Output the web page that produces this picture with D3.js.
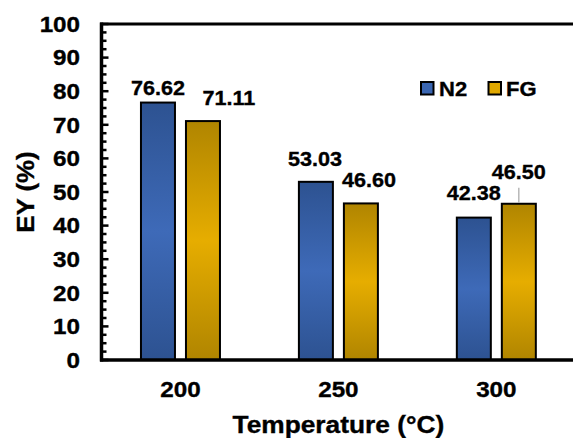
<!DOCTYPE html>
<html><head><meta charset="utf-8">
<script src="https://cdn.jsdelivr.net/npm/d3@7"></script>
<style>
html,body{margin:0;padding:0;background:#fff;}
svg{display:block;}
text{font-family:"Liberation Sans",Arial,Helvetica,sans-serif;font-weight:bold;fill:#000;stroke:#000;stroke-width:0.35px;}
</style></head>
<body>
<svg id="chart" width="573" height="438"></svg>
<script>
const categories = ["200", "250", "300"];
const seriesNames = ["N2", "FG"];
const n2Values = [76.62, 53.03, 42.38];
const fgValues = [71.11, 46.60, 46.50];
const yTickValues = [0, 10, 20, 30, 40, 50, 60, 70, 80, 90, 100];
const xTitle = "Temperature (°C)";
const yTitle = "EY (%)";
// label nudges (dx, dy in px) relative to default position above each bar
const n2LabelNudge = [[0, 8.5], [-1, 0], [0, -1.5]];
const fgLabelNudge = [[26, 0], [8, 0], [0, -9]];

const svg = d3.select("#chart");
const W = 573, H = 438;
const plot = {left: 101.5, right: 575.3, top: 24, bottom: 360};
const SX = 1.1;

const y = d3.scaleLinear().domain([0, 100]).range([plot.bottom, plot.top]);
const x0 = d3.scaleBand().domain(categories).range([plot.left, plot.right]).padding(0);
const x1 = d3.scaleBand().domain(seriesNames).range([0, 79]).paddingInner(11/45).paddingOuter(0);

const defs = svg.append("defs");
function grad(id, dark, light) {
  const g = defs.append("linearGradient").attr("id", id)
    .attr("x1", 0).attr("y1", 0).attr("x2", 0).attr("y2", 1);
  g.append("stop").attr("offset", "0%").attr("stop-color", dark);
  g.append("stop").attr("offset", "50%").attr("stop-color", light);
  g.append("stop").attr("offset", "100%").attr("stop-color", dark);
}
grad("gN2", "#2d5291", "#3e6ab8");
grad("gFG", "#b08500", "#e6ad00");
const fills = {N2: "url(#gN2)", FG: "url(#gFG)"};

const rows = [];
categories.forEach((c, i) => {
  rows.push({cat: c, s: "N2", v: n2Values[i], nudge: n2LabelNudge[i]});
  rows.push({cat: c, s: "FG", v: fgValues[i], nudge: fgLabelNudge[i]});
});
const barX = d => x0(d.cat) + x0.bandwidth() / 2 - 39.5 + x1(d.s);

// bars
svg.append("g").selectAll("rect").data(rows).join("rect")
  .attr("x", d => barX(d))
  .attr("y", d => y(d.v))
  .attr("width", x1.bandwidth())
  .attr("height", d => y(0) - y(d.v))
  .attr("fill", d => fills[d.s])
  .attr("stroke", "#000").attr("stroke-width", 2);

// y axis ticks (inward) minor + major
const minor = d3.range(0, 100.01, 2.5);
const axisG = svg.append("g");
axisG.selectAll("line.minor").data(minor).join("line")
  .attr("x1", plot.left).attr("x2", d => plot.left + (d % 10 === 0 ? 7 : 5))
  .attr("y1", d => y(d)).attr("y2", d => y(d))
  .attr("stroke", "#000").attr("stroke-width", 2.5);
// frame lines
axisG.append("line").attr("x1", plot.left).attr("x2", plot.left)
  .attr("y1", plot.top - 1.5).attr("y2", plot.bottom + 1.5)
  .attr("stroke", "#000").attr("stroke-width", 3.5);
axisG.append("line").attr("x1", plot.left - 1.5).attr("x2", W + 5)
  .attr("y1", plot.bottom).attr("y2", plot.bottom)
  .attr("stroke", "#000").attr("stroke-width", 3.5);
axisG.append("line").attr("x1", plot.left - 1.5).attr("x2", W + 5)
  .attr("y1", plot.top).attr("y2", plot.top)
  .attr("stroke", "#000").attr("stroke-width", 3);

// y tick labels
svg.append("g").selectAll("text").data(yTickValues).join("text")
  .attr("text-anchor", "end").attr("font-size", 22)
  .attr("transform", d => `translate(80,${y(d) + 7.8}) scale(${SX},1)`)
  .text(d => d);

// x tick labels
svg.append("g").selectAll("text").data(categories).join("text")
  .attr("text-anchor", "middle").attr("font-size", 22)
  .attr("transform", d => `translate(${x0(d) + x0.bandwidth() / 2},397) scale(${SX},1)`)
  .text(d => d);

// axis titles
svg.append("text").attr("text-anchor", "middle").attr("font-size", 23.5)
  .attr("transform", `translate(${(plot.left + plot.right) / 2},433) scale(1.12,1)`)
  .text(xTitle);
svg.append("text").attr("text-anchor", "middle").attr("font-size", 23.5)
  .attr("transform", `translate(34,${(plot.top + plot.bottom) / 2}) rotate(-90) scale(1.1,1)`)
  .text(yTitle);

// data labels
const lab = svg.append("g");
rows.forEach(d => {
  const cx = barX(d) + x1.bandwidth() / 2;
  const ty = y(d.v) - 16 + d.nudge[1];
  lab.append("text").attr("text-anchor", "middle").attr("font-size", 20)
    .attr("transform", `translate(${cx + d.nudge[0]},${ty}) scale(1.08,1)`)
    .text(d.v.toFixed(2));
  if (d.nudge[1] < -5) {
    lab.append("line").attr("x1", cx + d.nudge[0]).attr("x2", cx + d.nudge[0])
      .attr("y1", ty + 9).attr("y2", y(d.v) - 1)
      .attr("stroke", "#a6a6a6").attr("stroke-width", 1.2);
  }
});

// legend
const legendPos = [{x: 421, tx: 439}, {x: 488.5, tx: 506}];
const leg = svg.append("g");
seriesNames.forEach((s, i) => {
  leg.append("rect").attr("x", legendPos[i].x).attr("y", 82).attr("width", 12.5).attr("height", 12.5)
    .attr("fill", s === "N2" ? "#3a66b2" : "#e0a800").attr("stroke", "#000").attr("stroke-width", 2);
  leg.append("text").attr("font-size", 20)
    .attr("transform", `translate(${legendPos[i].tx},96) scale(1.1,1)`)
    .text(s);
});
</script>
</body></html>
